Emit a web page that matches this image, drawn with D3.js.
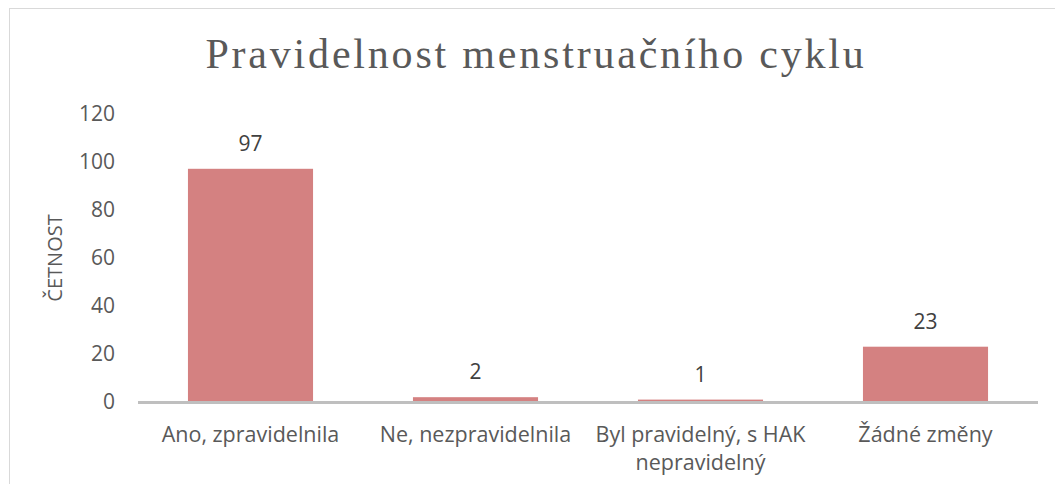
<!DOCTYPE html>
<html>
<head>
<meta charset="utf-8">
<script src="https://cdn.jsdelivr.net/npm/d3@7"></script>
<style>
  body { margin: 0; background: #fff; }
  .axis text { font-family: "Open Sans", sans-serif; font-size: 21px; fill: #595959; }
</style>
</head>
<body>
<script>
  var categories = ["Ano, zpravidelnila", "Ne, nezpravidelnila", "Byl pravidelný, s HAK\nnepravidelný", "Žádné změny"];
  var values = [97, 2, 1, 23];
  var yTicks = [0, 20, 40, 60, 80, 100, 120];
  var title = "Pravidelnost menstruačního cyklu";
  var yTitle = "ČETNOST";

  var width = 1055, height = 484;
  var plotLeft = 138, plotRight = 1038, plotTop = 113.5, plotBottom = 402;

  var svg = d3.select("body").append("svg")
      .attr("width", width)
      .attr("height", height);

  // chart frame
  svg.append("rect")
      .attr("x", 9.5).attr("y", 8.5)
      .attr("width", 1100).attr("height", 600)
      .attr("fill", "none")
      .attr("stroke", "#d9d9d9")
      .attr("stroke-width", 1);

  var xScale = d3.scaleBand()
      .domain(categories)
      .range([plotLeft, plotRight])
      .paddingInner(0.444)
      .paddingOuter(0.222);

  var yScale = d3.scaleLinear()
      .domain([0, 120])
      .range([plotBottom, plotTop]);

  // title
  svg.append("text")
      .attr("x", 536)
      .attr("y", 68)
      .attr("text-anchor", "middle")
      .attr("font-family", "Liberation Serif, serif")
      .attr("font-size", "42px")
      .attr("letter-spacing", "2.8px")
      .attr("fill", "#595959")
      .text(title);

  // y axis (labels only)
  var yAxis = svg.append("g")
      .attr("class", "axis axis--y")
      .attr("transform", "translate(" + (plotLeft - 23) + ",0)")
      .call(d3.axisLeft(yScale).tickValues(yTicks).tickSize(0).tickPadding(0));
  yAxis.select(".domain").remove();

  svg.append("text")
      .attr("transform", "translate(62,258) rotate(-90)")
      .attr("text-anchor", "middle")
      .attr("font-family", "Open Sans, sans-serif")
      .attr("font-size", "20px")
      .attr("fill", "#595959")
      .text(yTitle);

  // bars
  svg.selectAll("rect.bar")
      .data(values)
      .enter().append("rect")
      .attr("class", "bar")
      .attr("x", function(d, i) { return xScale(categories[i]); })
      .attr("y", function(d) { return yScale(d); })
      .attr("width", xScale.bandwidth())
      .attr("height", function(d) { return yScale(0) - yScale(d); })
      .attr("fill", "#d48181");

  // value labels
  svg.selectAll("text.value")
      .data(values)
      .enter().append("text")
      .attr("class", "value")
      .attr("x", function(d, i) { return xScale(categories[i]) + xScale.bandwidth() / 2; })
      .attr("y", function(d) { return yScale(d) - 18; })
      .attr("text-anchor", "middle")
      .attr("font-family", "Open Sans, sans-serif")
      .attr("font-size", "21px")
      .attr("fill", "#404040")
      .text(function(d) { return d; });

  // x axis line
  svg.append("line")
      .attr("x1", plotLeft).attr("x2", plotRight)
      .attr("y1", yScale(0) + 0.5).attr("y2", yScale(0) + 0.5)
      .attr("stroke", "#bfbfbf")
      .attr("stroke-width", 3);

  // category labels (one text per line)
  var lines = [];
  categories.forEach(function(c) {
    c.split("\n").forEach(function(s, i) { lines.push({ c: c, s: s, i: i }); });
  });
  svg.selectAll("text.cat")
      .data(lines)
      .enter().append("text")
      .attr("class", "cat")
      .attr("x", function(d) { return xScale(d.c) + xScale.bandwidth() / 2; })
      .attr("y", function(d) { return 442 + d.i * 28; })
      .attr("text-anchor", "middle")
      .attr("font-family", "Open Sans, sans-serif")
      .attr("font-size", "21.5px")
      .attr("fill", "#595959")
      .text(function(d) { return d.s; });
</script>
</body>
</html>
